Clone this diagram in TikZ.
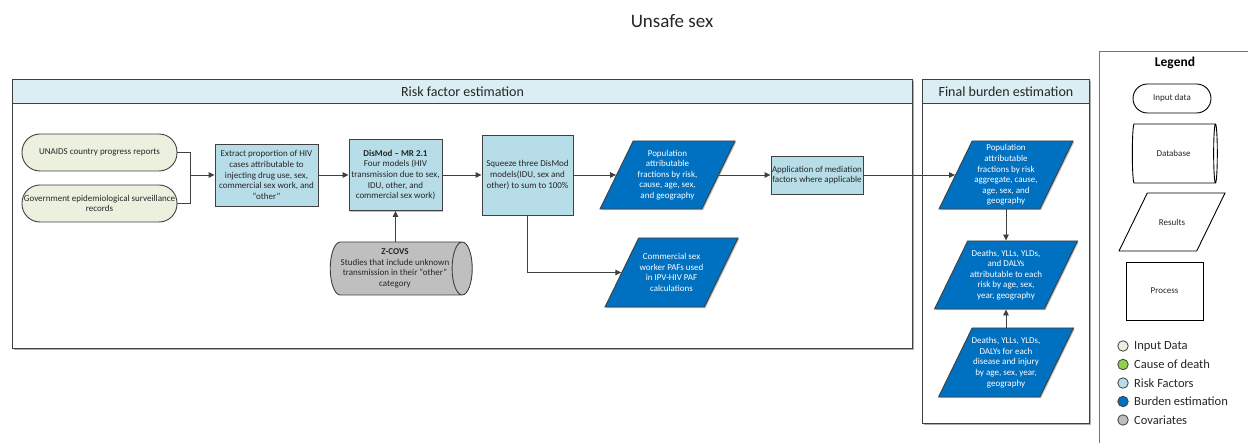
\documentclass[tikz,border=0pt]{standalone}
\usepackage{fontspec}
\setmainfont{Carlito}
\usetikzlibrary{shapes.geometric,shapes.misc,arrows.meta,shadows}

\definecolor{inputc}{HTML}{EBF1DE}
\definecolor{riskc}{HTML}{B7DEE8}
\definecolor{burdenc}{HTML}{0070C0}
\definecolor{covc}{HTML}{BFBFBF}
\definecolor{codc}{HTML}{92D050}
\definecolor{headc}{HTML}{DAEEF3}
\definecolor{edge}{HTML}{404040}
\definecolor{legline}{HTML}{4A7EBB}
\definecolor{txt}{HTML}{262626}

\tikzset{
  base/.style={draw=edge, line width=0.9pt, font=\fontsize{9}{10.6}\selectfont,
    align=center, inner sep=0.5pt, text=txt},
  shade/.style={drop shadow={shadow xshift=1.2pt, shadow yshift=-1.2pt,
    fill=black!40, opacity=0.6}},
  inputbox/.style={base, rectangle, rounded corners=18pt, fill=inputc,
    minimum width=155pt, minimum height=37pt},
  procbox/.style={base, rectangle, fill=riskc, shade},
  % parallelogram: height = 2 x inner ysep, total extent = minimum width
  para/.style={base, trapezium, trapezium left angle=64,
    trapezium right angle=116, trapezium stretches body,
    inner xsep=0pt, inner ysep=#1},
  result/.style={para=#1, fill=burdenc, shade},
  restext/.style={font=\fontsize{9}{10.6}\selectfont, align=center,
    text=white, inner sep=0pt},
  dbase/.style={base, cylinder, aspect=0.5, fill=covc, inner xsep=0pt},
  panel/.style={draw=edge, line width=0.9pt, fill=white, rectangle,
    inner sep=0pt, drop shadow={shadow xshift=1.5pt, shadow yshift=-1.5pt,
    fill=black!45, opacity=0.7}},
  header/.style={draw=edge, line width=0.9pt, fill=headc, rectangle,
    inner sep=0pt, font=\fontsize{14}{16}\selectfont, text=txt},
  line/.style={draw=edge, line width=0.9pt},
  arr/.style={line, -{Triangle[length=6pt,width=5.5pt]}},
  legdot/.style={circle, draw=edge, line width=0.8pt, minimum size=10.5pt,
    inner sep=0pt},
  legtext/.style={anchor=west, font=\fontsize{12.5}{14}\selectfont, text=txt,
    inner sep=0pt},
  legshape/.style={base, draw=black, fill=white}
}

\begin{document}
\begin{tikzpicture}[x=1pt, y=-1pt]
\useasboundingbox (0,0) rectangle (1248,443);

% title
\node[font=\fontsize{19}{22}\selectfont, text=txt] (title) at (672,21) {Unsafe sex};

% swim-lane panels
\node[panel, anchor=north west, minimum width=900pt, minimum height=269pt] (riskpanel) at (12,79) {};
\node[header, anchor=north west, minimum width=900pt, minimum height=24pt] (riskhead) at (12,79) {Risk factor estimation};
\node[panel, anchor=north west, minimum width=167pt, minimum height=344pt] (burdenpanel) at (922,79) {};
\node[header, anchor=north west, minimum width=167pt, minimum height=24pt] (burdenhead) at (922,79) {Final burden estimation};

% risk factor estimation
\node[inputbox] (unaids) at (99.5,152.5) {UNAIDS country progress reports};
\node[inputbox] (gov) at (99.5,203.5) {Government epidemiological surveillance\\records};
\node[procbox, minimum width=103pt, minimum height=62pt] (extract) at (266.5,175)
  {Extract proportion of HIV\\cases attributable to\\injecting drug use, sex,\\commercial sex work, and\\“other”};
\node[procbox, minimum width=93pt, minimum height=71pt] (dismod) at (395.5,175)
  {\textbf{DisMod – MR 2.1}\\Four models (HIV\\transmission due to sex,\\IDU, other, and\\commercial sex work)};
\node[procbox, minimum width=91pt, minimum height=80pt] (squeeze) at (527.5,175)
  {Squeeze three DisMod\\models(IDU, sex and\\other) to sum to 100\%};
\node[dbase, minimum width=53pt, minimum height=142pt] (zcovs) at (395,268.5)
  {\textbf{Z-COVS}\\Studies that include unknown\\transmission in their “other”\\category};
\node[result=34pt, minimum width=135pt,
  label={[restext]center:Population\\attributable\\fractions by risk,\\cause, age, sex,\\and geography}] (paf) at (667.5,175) {};
\node[result=34.5pt, minimum width=133pt,
  label={[restext]center:Commercial sex\\worker PAFs used\\in IPV-HIV PAF\\calculations}] (csw) at (671.5,272.5) {};
\node[procbox, minimum width=92pt, minimum height=38pt] (app) at (817,175)
  {Application of mediation\\factors where applicable};

% final burden estimation
\node[result=34pt, minimum width=134pt,
  label={[restext]center:Population\\attributable\\fractions by risk\\aggregate, cause,\\age, sex, and\\geography}] (fpaf) at (1006,175) {};
\node[result=34pt, minimum width=143pt,
  label={[restext]center:Deaths, YLLs, YLDs,\\and DALYs\\attributable to each\\risk by age, sex,\\year, geography}] (dattr) at (1006,275) {};
\node[result=34.5pt, minimum width=135pt,
  label={[restext]center:Deaths, YLLs, YLDs,\\DALYs for each\\disease and injury\\by age, sex, year,\\geography}] (deach) at (1006,362.5) {};

% connectors
\coordinate (join) at (190,175);
\draw[line] (unaids.east) -| (join);
\draw[line] (gov.east) -| (join);
\draw[arr] (join) -- (extract.west);
\draw[arr] (extract.east) -- (dismod.west);
\draw[arr] (dismod.east) -- (squeeze.west);
\draw[arr] (zcovs.north -| dismod.south) -- (dismod.south);
\draw[arr] (squeeze.east) -- (paf.west);
\draw[arr] (squeeze.south) |- (csw.west);
\draw[arr] (paf.east) -- (app.west);
\draw[arr] (app.east) -- (fpaf.west);
\draw[arr] (fpaf) -- (dattr);
\draw[arr] (deach) -- (dattr);

% legend
\coordinate (legbottom) at (1099,443);
\coordinate (legcorner) at (1099,52);
\coordinate (legright) at (1248,52);
\draw[legline, line width=1pt] (legbottom) -- (legcorner) -- (legright);
\node[font=\bfseries\fontsize{13.5}{16}\selectfont, text=black] (legtitle) at (1175,63) {Legend};
\node[legshape, rectangle, rounded corners=14.5pt, minimum width=78pt, minimum height=29pt] (lin) at (1172,98.5) {Input data};
\node[legshape, cylinder, aspect=0.5, minimum width=59pt, minimum height=85pt] (ldb) at (1173.5,153.5) {Database};
\node[para=29pt, draw=black, fill=white, minimum width=106pt,
  label={[font=\fontsize{9}{10.6}\selectfont, text=txt]center:Results}] (lres) at (1172,222) {};
\node[legshape, rectangle, minimum width=77pt, minimum height=58pt, drop shadow={shadow xshift=1pt, shadow yshift=-1pt, fill=black!40, opacity=0.6}] (lproc) at (1164.5,291) {Process};

\node[legdot, fill=inputc] (d1) at (1123,346) {};
\node[legdot, fill=codc] (d2) at (1123,364.5) {};
\node[legdot, fill=riskc] (d3) at (1123,383) {};
\node[legdot, fill=burdenc] (d4) at (1123,401.5) {};
\node[legdot, fill=covc] (d5) at (1123,420) {};
\node[legtext] (t1) at (1134,346) {Input Data};
\node[legtext] (t2) at (1134,364.5) {Cause of death};
\node[legtext] (t3) at (1134,383) {Risk Factors};
\node[legtext] (t4) at (1134,401.5) {Burden estimation};
\node[legtext] (t5) at (1134,420) {Covariates};
\end{tikzpicture}
\end{document}
